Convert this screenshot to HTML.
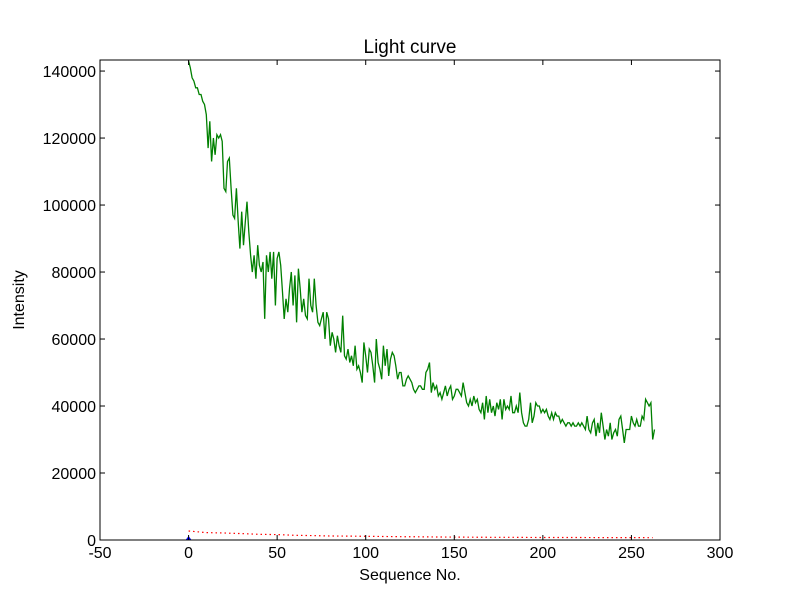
<!DOCTYPE html>
<html><head><meta charset="utf-8"><style>
body{margin:0;background:#fff;}
svg{display:block;font-family:"Liberation Sans",sans-serif;}
</style></head><body>
<svg id="chart" width="800" height="600">
<rect x="0" y="0" width="800" height="600" fill="#fff"/>
<text x="410" y="53" font-size="19" text-anchor="middle">Light curve</text>
<text x="410" y="580" font-size="16" text-anchor="middle">Sequence No.</text>
<text x="24" y="300" font-size="16" text-anchor="middle" transform="rotate(-90 24 300)">Intensity</text>
<g id="plot"></g>
</svg>
<script>
const xTicks=[-50,0,50,100,150,200,250,300];
const yTicks=[0,20000,40000,60000,80000,100000,120000,140000];
const greenK=[143,141,138,137,135,135,133,133,131,130,
127,117,125,113,120,115,121,120,121,119,
105,104,113,114,105,97,96,105,95,87,
98,88,95,101,92,85,80,85,78,88,
82,80,83,66,85,80,86,78,86,70,
84,86,82,74,66,72,68,75,80,70,
79,65,81,75,68,72,67,66,78,70,
68,78,70,65,64,66,68,60,68,66,
58,62,60,56,61,58,56,67,55,54,
57,53,55,52,58,51,52,50,47,59,
55,50,57,56,52,47,60,53,51,48,
58,52,57,49,54,56,55,52,48,50,
50,46,46,48,49,48,47,45,44,45,
46,46,45,45,50,51,53,44,47,45,
46,43,44,42,44,46,43,45,46,42,
43,45,45,44,43,47,44,41,40,42,
40,43,41,42,39,38,41,36,43,38,
42,38,40,37,41,39,42,36,42,39,
40,39,43,38,38,40,38,44,38,35,
34,34,36,41,35,37,41,40,40,38,
39,38,39,37,36,38,36,38,37,37,
35,36,35,34,35,35,34,35,34,34,
35,34,35,34,33,37,33,32,35,36,
31,35,32,38,34,30,33,31,35,30,
32,33,31,36,37,33,29,33,33,33,
37,35,34,36,34,34,37,36,42,41,
40,41,30,33];
const redX=[0,10,20,30,40,50,60,70,80,90,100,110,120,130,140,150,160,170,180,190,200,210,220,230,240,250,262];
const redY=[2700,2200,2100,1900,1700,1600,1400,1300,1200,1150,1100,1050,1000,950,900,880,850,820,800,780,760,750,740,730,720,710,700];
const L=100,R=720,T=60,B=540,XMIN=-50,XMAX=300,YMIN=0,YMAX=143300;
const sx=v=>L+(v-XMIN)/(XMAX-XMIN)*(R-L);
const sy=v=>B-(v-YMIN)/(YMAX-YMIN)*(B-T);
const NS="http://www.w3.org/2000/svg";
const g=document.getElementById('plot');
function mk(t,a){const e=document.createElementNS(NS,t);for(const k in a)e.setAttribute(k,a[k]);g.appendChild(e);return e;}
const clip=document.createElementNS(NS,'clipPath');clip.setAttribute('id','cp');
const cr=document.createElementNS(NS,'rect');cr.setAttribute('x',L);cr.setAttribute('y',T);cr.setAttribute('width',R-L);cr.setAttribute('height',B-T);clip.appendChild(cr);g.appendChild(clip);
let gp=greenK.map((v,i)=>sx(i).toFixed(1)+','+sy(v*1000).toFixed(1)).join(' ');
const gl=mk('polyline',{points:gp,fill:'none',stroke:'#008000','stroke-width':1.3,'clip-path':'url(#cp)'});


let rp=redX.map((x,i)=>sx(x).toFixed(1)+','+sy(redY[i]).toFixed(1)).join(' ');
const rl=mk('polyline',{points:rp,fill:'none',stroke:'#ff0000','stroke-width':1.2,'stroke-dasharray':'1.5,3'});


const bm=mk('path',{d:`M${sx(0)-3},${sy(0)} L${sx(0)+3},${sy(0)} L${sx(0)},${sy(0)-4} Z`,fill:'#0000ff'});


const fr=mk('rect',{x:L,y:T,width:R-L,height:B-T,fill:'none',stroke:'#000','stroke-width':1});


xTicks.forEach(v=>{const x=sx(v);
mk('line',{x1:x,y1:B,x2:x,y2:B-5,stroke:'#000'});mk('line',{x1:x,y1:T,x2:x,y2:T+5,stroke:'#000'});
const t=mk('text',{x:x,y:B+18,'font-size':16,'text-anchor':'middle'});t.textContent=v;

});
yTicks.forEach(v=>{const y=sy(v);
mk('line',{x1:L,y1:y,x2:L+5,y2:y,stroke:'#000'});mk('line',{x1:R,y1:y,x2:R-5,y2:y,stroke:'#000'});
const t=mk('text',{x:L-4,y:y+6,'font-size':16,'text-anchor':'end'});t.textContent=v;

});
</script>
</body></html>
